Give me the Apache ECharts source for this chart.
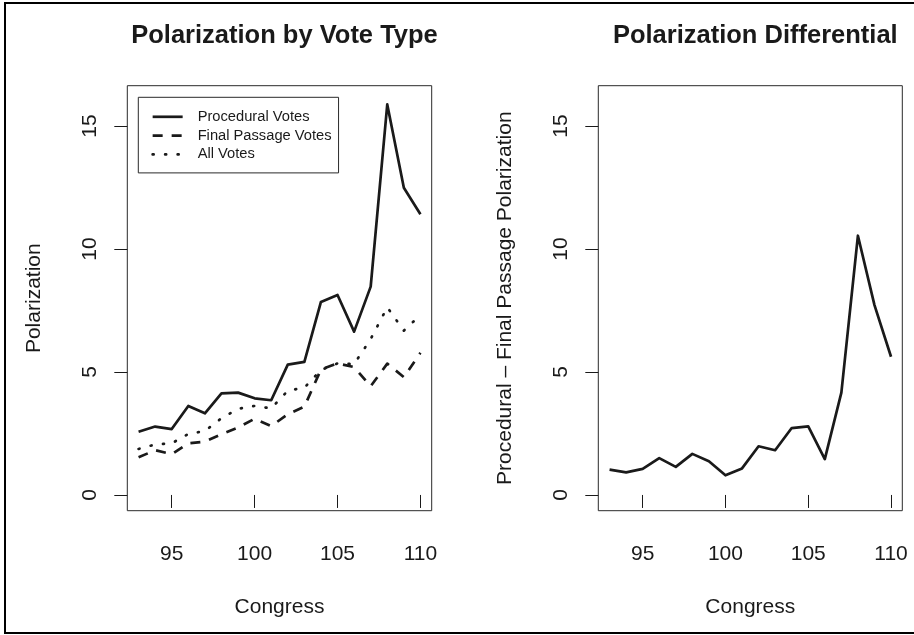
<!DOCTYPE html>
<html>
<head>
<meta charset="utf-8">
<script src="https://cdn.jsdelivr.net/npm/echarts@6/dist/echarts.min.js"></script>
<style>
  html, body { margin: 0; padding: 0; background: #fff; }
  #chart { width: 914px; height: 635px; }
</style>
</head>
<body>
<div id="chart"></div>
<script>
// Congress sessions on the x axis
var congress = [93, 94, 95, 96, 97, 98, 99, 100, 101, 102, 103, 104, 105, 106, 107, 108, 109, 110];

// Polarization scores by vote type
var procedural   = [2.57, 2.78, 2.68, 3.62, 3.32, 4.13, 4.16, 3.93, 3.85, 5.30, 5.41, 7.85, 8.13, 6.64, 8.47, 15.88, 12.49, 11.41];
var finalPassage = [1.53, 1.82, 1.66, 2.10, 2.17, 2.47, 2.74, 3.10, 2.80, 3.28, 3.59, 5.10, 5.35, 5.20, 4.42, 5.34, 4.79, 5.78];
var allVotes     = [1.87, 2.05, 2.10, 2.48, 2.60, 3.12, 3.50, 3.62, 3.52, 4.24, 4.36, 5.08, 5.35, 5.32, 6.34, 7.63, 6.68, 7.32];

// Procedural minus final passage polarization
var differential = [1.03, 0.92, 1.06, 1.50, 1.14, 1.67, 1.37, 0.80, 1.08, 1.98, 1.82, 2.72, 2.79, 1.46, 4.16, 10.54, 7.72, 5.62];

// Tick marks
var xTicks = [95, 100, 105, 110];
var yTicks = [0, 5, 10, 15];

var FONT = '"Liberation Sans", Arial, Helvetica, sans-serif';
var INK = '#1a1a1a';

function pairs(values) {
  return congress.map(function (c, i) { return [c, values[i]]; });
}

// axis range padded 4% beyond the data range on each side
var xMin = 93 - 0.04 * 17, xMax = 110 + 0.04 * 17;
var yMin = 0 - 0.04 * 16, yMax = 16 + 0.04 * 16;

function xAxisCfg(gridIndex) {
  return {
    type: 'value', gridIndex: gridIndex, min: xMin, max: xMax,
    name: 'Congress', nameLocation: 'middle', nameGap: 86,
    nameTextStyle: { fontFamily: FONT, fontSize: 21, color: INK },
    axisLine: { show: false },
    splitLine: { show: false },
    axisTick: { show: true, inside: false, length: 13, customValues: xTicks,
                lineStyle: { color: INK, width: 1 } },
    axisLabel: { customValues: xTicks, margin: 33, fontFamily: FONT, fontSize: 21, color: INK }
  };
}

function yAxisCfg(gridIndex, title) {
  return {
    type: 'value', gridIndex: gridIndex, min: yMin, max: yMax,
    name: title, nameLocation: 'middle', nameGap: 83,
    nameTextStyle: { fontFamily: FONT, fontSize: 21, color: INK },
    axisLine: { show: false },
    splitLine: { show: false },
    axisTick: { show: true, inside: false, length: 13, customValues: yTicks,
                lineStyle: { color: INK, width: 1 } },
    axisLabel: { customValues: yTicks, rotate: 90, margin: 27, fontFamily: FONT, fontSize: 21, color: INK }
  };
}

function lineSeries(name, values, xi, dash, cap) {
  return {
    type: 'line', name: name, xAxisIndex: xi, yAxisIndex: xi,
    data: pairs(values), symbol: 'none', showSymbol: false, silent: true,
    animation: false,
    lineStyle: { color: INK, width: 2.7, type: dash, cap: cap || 'butt', join: 'round' },
    itemStyle: { color: INK }
  };
}

var chart = echarts.init(document.getElementById('chart'), null, { renderer: 'canvas' });

chart.setOption({
  backgroundColor: '#fff',
  animation: false,
  title: [
    { text: 'Polarization by Vote Type', left: 279.5, top: 18, textAlign: 'center',
      textStyle: { fontFamily: FONT, fontSize: 25.5, fontWeight: 'bold', color: INK } },
    { text: 'Polarization Differential', left: 750.3, top: 18, textAlign: 'center',
      textStyle: { fontFamily: FONT, fontSize: 25.5, fontWeight: 'bold', color: INK } }
  ],
  grid: [
    { left: 127.3, top: 85.7, width: 304.4, height: 425, show: true,
      borderColor: '#2a2a2a', borderWidth: 1, backgroundColor: 'transparent' },
    { left: 598.3, top: 85.7, width: 304, height: 425, show: true,
      borderColor: '#2a2a2a', borderWidth: 1, backgroundColor: 'transparent' }
  ],
  xAxis: [xAxisCfg(0), xAxisCfg(1)],
  yAxis: [yAxisCfg(0, 'Polarization'), yAxisCfg(1, 'Procedural \u2013 Final Passage Polarization')],
  legend: {
    left: 138.3, top: 97.3, orient: 'vertical',
    data: ['Procedural Votes', 'Final Passage Votes', 'All Votes'],
    borderColor: '#2a2a2a', borderWidth: 1, borderRadius: 0,
    padding: [12, 7, 11, 13],
    itemWidth: 30, itemHeight: 15, itemGap: 3.8,
    selectedMode: false,
    // legend keys show only the line pattern, no point marker
    itemStyle: { color: 'transparent', borderWidth: 0, opacity: 0 },
    lineStyle: { type: 'inherit', width: 2.7, color: INK, opacity: 1 },
    textStyle: { fontFamily: FONT, fontSize: 14.7, color: INK, lineHeight: 15, padding: [0, 0, 0, 10] }
  },
  series: [
    lineSeries('Procedural Votes', procedural, 0, 'solid'),
    lineSeries('Final Passage Votes', finalPassage, 0, [10, 9]),
    lineSeries('All Votes', allVotes, 0, [1, 11.5], 'round'),
    lineSeries('Differential', differential, 1, 'solid')
  ],
  graphic: [
    { type: 'rect', silent: true, z: 100,
      shape: { x: 5, y: 3, width: 912, height: 630 },
      style: { fill: null, stroke: '#000', lineWidth: 2 } }
  ]
});
</script>
</body>
</html>
